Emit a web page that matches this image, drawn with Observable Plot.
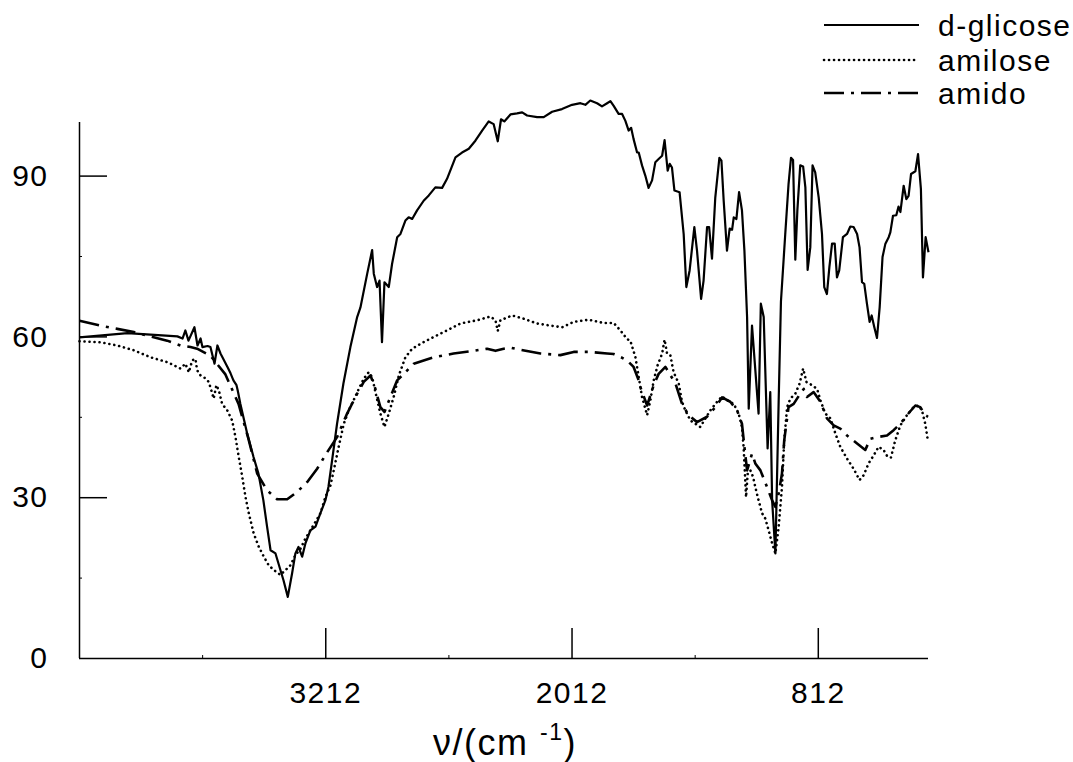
<!DOCTYPE html>
<html>
<head>
<meta charset="utf-8">
<script src="https://cdn.jsdelivr.net/npm/d3@7"></script>
<script src="https://cdn.jsdelivr.net/npm/@observablehq/plot@0.6"></script>
<style>
  html, body { margin: 0; padding: 0; background: #fff; }
  #wrap { position: relative; width: 1073px; height: 762px; font-family: "Liberation Sans", Arial, sans-serif; }
  #wrap svg text { letter-spacing: 1.5px; }
  #overlay { position: absolute; left: 0; top: 0; pointer-events: none; }
</style>
</head>
<body>
<div id="wrap"></div>
<script>
// ---- data (wavenumber in cm^-1, transmittance %) ----
const glicoseWn = [4412, 4178, 3935, 3910, 3896, 3881, 3852, 3837, 3822, 3813, 3788, 3774, 3754, 3740, 3725, 3691, 3676, 3662, 3647, 3641, 3628, 3595, 3564, 3540, 3516, 3498, 3481, 3457, 3433, 3418, 3397, 3376, 3360, 3345, 3327, 3311, 3287, 3262, 3238, 3214, 3199, 3181, 3157, 3126, 3092, 3059, 3043, 3010, 2986, 2978, 2962, 2950, 2938, 2926, 2905, 2889, 2864, 2848, 2824, 2808, 2791, 2767, 2735, 2710, 2678, 2645, 2621, 2580, 2548, 2515, 2483, 2450, 2418, 2394, 2374, 2358, 2342, 2312, 2280, 2255, 2231, 2182, 2150, 2109, 2061, 2012, 1971, 1947, 1923, 1890, 1866, 1841, 1825, 1809, 1785, 1768, 1752, 1736, 1724, 1712, 1695, 1687, 1671, 1655, 1639, 1622, 1606, 1590, 1573, 1561, 1546, 1536, 1525, 1513, 1488, 1468, 1455, 1439, 1416, 1403, 1383, 1371, 1354, 1344, 1330, 1314, 1294, 1284, 1273, 1257, 1244, 1232, 1224, 1211, 1198, 1184, 1172, 1159, 1151, 1135, 1103, 1092, 1078, 1059, 1046, 1037, 1021, 1005, 994, 973, 957, 945, 935, 924, 914, 900, 886, 875, 864, 851, 840, 827, 810, 794, 783, 770, 758, 745, 732, 721, 710, 692, 672, 656, 640, 623, 611, 599, 588, 575, 562, 552, 539, 526, 513, 499, 485, 469, 461, 448, 432, 421, 412, 396, 383, 372, 360, 339, 326, 312, 302, 289, 275];
const glicoseT = [59.9, 60.7, 60.1, 59.7, 61.2, 59.3, 61.8, 58.4, 59.7, 58.1, 58.3, 58.1, 55.0, 58.4, 56.9, 54.4, 53.2, 51.9, 51.0, 50.0, 47.5, 42.0, 37.6, 34.5, 29.5, 24.6, 20.2, 19.6, 16.5, 14.6, 11.5, 15.9, 19.6, 20.8, 19.0, 21.5, 23.9, 24.6, 27.1, 29.5, 32.0, 37.0, 43.8, 51.3, 58.1, 63.7, 65.5, 71.8, 76.2, 71.8, 69.3, 70.5, 59.0, 70.2, 69.3, 73.6, 78.6, 79.2, 81.7, 82.3, 82.0, 83.6, 85.4, 86.4, 87.9, 87.8, 89.5, 93.5, 94.4, 95.1, 96.6, 98.5, 100.2, 99.7, 96.5, 100.6, 100.2, 101.5, 101.7, 101.9, 101.3, 101.0, 101.0, 102.0, 102.5, 103.3, 103.6, 103.3, 104.1, 103.6, 103.0, 103.6, 104.0, 103.1, 101.6, 101.6, 100.3, 98.5, 99.0, 96.9, 94.4, 94.4, 92.0, 90.1, 87.8, 89.2, 92.6, 93.2, 93.8, 96.7, 91.0, 92.3, 91.6, 87.3, 87.0, 79.2, 69.3, 72.4, 80.5, 76.1, 67.1, 70.5, 80.5, 80.5, 74.6, 86.0, 93.4, 92.9, 85.4, 76.1, 80.2, 80.0, 82.3, 82.0, 87.0, 83.6, 76.1, 63.7, 46.6, 62.1, 45.7, 66.2, 63.7, 39.2, 49.7, 29.5, 19.6, 48.2, 66.6, 79.2, 88.5, 93.4, 93.0, 74.4, 83.6, 92.0, 91.8, 87.9, 72.5, 76.7, 92.0, 90.7, 86.0, 79.2, 69.3, 68.0, 73.0, 77.4, 77.4, 71.1, 72.4, 78.6, 79.2, 80.6, 80.5, 79.2, 76.7, 70.2, 69.9, 66.2, 62.8, 64.0, 61.8, 59.8, 65.5, 74.9, 77.4, 78.6, 79.5, 82.6, 82.7, 84.3, 83.3, 88.2, 85.7, 86.3, 90.4, 90.9, 94.1, 87.6, 71.1, 78.6, 75.8];

const amiloseWn = [4412, 4310, 4228, 4147, 4066, 3985, 3920, 3896, 3879, 3863, 3847, 3839, 3822, 3806, 3782, 3758, 3745, 3733, 3717, 3692, 3668, 3652, 3636, 3619, 3603, 3587, 3563, 3538, 3514, 3490, 3465, 3433, 3408, 3384, 3360, 3335, 3311, 3287, 3262, 3238, 3214, 3189, 3173, 3149, 3124, 3100, 3076, 3051, 3027, 3003, 2986, 2970, 2946, 2926, 2905, 2881, 2856, 2824, 2791, 2751, 2686, 2621, 2556, 2475, 2410, 2385, 2374, 2361, 2304, 2248, 2182, 2117, 2060, 2004, 1931, 1858, 1809, 1776, 1744, 1728, 1703, 1687, 1671, 1646, 1630, 1614, 1595, 1573, 1561, 1549, 1533, 1517, 1492, 1476, 1460, 1435, 1411, 1387, 1362, 1338, 1305, 1281, 1257, 1224, 1200, 1184, 1176, 1171, 1164, 1156, 1143, 1130, 1119, 1103, 1086, 1070, 1054, 1037, 1021, 1005, 989, 978, 964, 948, 924, 903, 886, 870, 843, 818, 802, 778, 753, 729, 705, 672, 640, 611, 591, 567, 542, 518, 494, 474, 458, 437, 412, 380, 348, 323, 307, 291, 277];
const amiloseT = [59.2, 59.0, 58.4, 57.5, 56.2, 55.3, 54.1, 55.0, 53.4, 55.6, 55.9, 53.8, 52.8, 52.5, 51.6, 48.5, 51.0, 50.0, 47.5, 46.3, 44.4, 41.3, 37.6, 33.9, 30.1, 27.1, 23.3, 20.8, 19.0, 17.4, 16.5, 15.6, 16.5, 17.4, 19.3, 20.5, 22.4, 23.9, 25.5, 27.1, 30.1, 32.3, 35.1, 39.5, 43.8, 46.3, 48.2, 50.3, 52.2, 53.4, 52.5, 49.7, 45.7, 43.2, 45.7, 48.8, 52.8, 56.2, 57.8, 58.7, 60.0, 61.2, 62.5, 63.1, 63.8, 63.1, 61.1, 63.1, 64.0, 63.4, 62.5, 62.1, 61.8, 62.8, 63.2, 62.6, 62.6, 61.2, 59.6, 59.3, 56.2, 52.5, 48.8, 45.4, 48.2, 51.9, 54.7, 56.9, 59.5, 56.9, 56.6, 53.4, 51.3, 47.9, 46.3, 44.4, 43.8, 43.2, 44.8, 46.3, 47.9, 48.9, 48.2, 47.5, 45.7, 43.2, 39.5, 35.7, 30.1, 34.5, 35.1, 33.9, 32.0, 29.5, 27.1, 26.1, 23.9, 21.5, 19.6, 24.6, 32.0, 40.7, 46.9, 48.5, 49.4, 51.3, 54.1, 51.6, 51.0, 50.3, 48.2, 45.7, 44.8, 42.0, 39.5, 37.3, 35.4, 33.3, 34.2, 36.4, 37.9, 39.5, 38.9, 37.6, 37.5, 40.7, 43.5, 45.4, 46.9, 47.2, 46.3, 43.8, 40.4];

const amidoWn = [4412, 4310, 4228, 4147, 4066, 3985, 3920, 3871, 3839, 3774, 3701, 3637, 3589, 3546, 3498, 3449, 3400, 3351, 3303, 3254, 3205, 3157, 3108, 3059, 3027, 2994, 2970, 2946, 2926, 2897, 2864, 2832, 2783, 2735, 2686, 2589, 2491, 2426, 2385, 2345, 2312, 2264, 2166, 2069, 2004, 1923, 1841, 1809, 1768, 1744, 1712, 1687, 1679, 1646, 1614, 1590, 1557, 1541, 1508, 1476, 1444, 1403, 1354, 1314, 1281, 1241, 1208, 1184, 1172, 1159, 1135, 1119, 1094, 1062, 1037, 1021, 1005, 989, 978, 957, 932, 900, 883, 867, 835, 802, 770, 737, 705, 672, 623, 583, 559, 526, 477, 445, 412, 380, 339, 315, 291, 277];
const amidoT = [63.0, 62.1, 61.5, 60.9, 60.1, 59.3, 58.4, 58.1, 57.8, 56.5, 53.0, 47.5, 41.0, 34.5, 31.4, 29.7, 29.7, 31.1, 32.9, 35.4, 38.5, 41.3, 45.7, 49.4, 51.6, 52.8, 50.3, 46.9, 46.0, 48.8, 51.9, 53.1, 55.0, 55.6, 56.2, 56.9, 57.4, 57.8, 57.4, 57.8, 58.0, 57.6, 56.9, 56.6, 57.2, 57.2, 56.9, 56.8, 56.1, 55.6, 54.4, 51.9, 50.6, 47.2, 51.0, 53.1, 54.4, 53.4, 51.3, 47.5, 45.4, 44.1, 45.1, 46.9, 48.7, 47.9, 46.3, 43.8, 39.5, 35.1, 38.2, 36.4, 35.1, 32.0, 29.5, 28.3, 30.8, 34.5, 40.7, 46.9, 47.5, 49.4, 50.3, 48.8, 49.7, 47.9, 44.8, 43.5, 42.9, 41.6, 40.1, 38.9, 41.0, 41.3, 41.6, 42.6, 43.8, 45.4, 47.2, 46.9, 45.4, 45.1];

const seriesNames = ["d-glicose", "amilose", "amido"];
const xTicks = [3212, 2012, 812];
const xMinorTicks = [3812, 2612, 1412];
const yTicks = [0, 30, 60, 90];
const yMinorTicks = [15, 45, 75];
const xDomain = [4412, 275];
const yDomain = [0, 100];

// ---- build tables ----
const toRows = (wn, t) => d3.zip(wn, t).map(([w, v]) => ({wn: w, t: v}));
const glicose = toRows(glicoseWn, glicoseT);
const amilose = toRows(amiloseWn, amiloseT);
const amido = toRows(amidoWn, amidoT);

const styles = [
  {strokeWidth: 2.2, strokeDasharray: null, strokeLinecap: "butt"},
  {strokeWidth: 2.6, strokeDasharray: "0.1 4.9", strokeLinecap: "round"},
  {strokeWidth: 2.6, strokeDasharray: "20 7 3 7", strokeLinecap: "butt"}
];

const W = 1073, H = 762;
const mL = 79, mR = 145, mT = 122, mB = 104;
const plotW = W - mL - mR, plotH = H - mT - mB;
const font = "'Liberation Sans', Arial, sans-serif";

const chart = Plot.plot({
  width: W,
  height: H,
  marginLeft: mL,
  marginRight: mR,
  marginTop: mT,
  marginBottom: mB,
  style: {fontFamily: font, fontSize: "30px", background: "white", overflow: "visible"},
  x: {domain: xDomain},
  y: {domain: yDomain},
  marks: [
    Plot.ruleX([xDomain[0]], {stroke: "black", strokeWidth: 1.5}),
    Plot.ruleY([0], {stroke: "black", strokeWidth: 1.5}),
    Plot.tickY(yTicks.slice(1), {y: d => d, stroke: "black", strokeWidth: 1.5, insetRight: plotW - 28}),
    Plot.tickY(yMinorTicks, {y: d => d, stroke: "black", strokeWidth: 1, insetRight: plotW - 3}),
    Plot.tickX(xTicks, {x: d => d, stroke: "black", strokeWidth: 1.5, insetTop: plotH - 30}),
    Plot.tickX(xMinorTicks, {x: d => d, stroke: "black", strokeWidth: 1, insetTop: plotH - 3}),
    Plot.axisY({ticks: yTicks, tickSize: 0, tickPadding: 31, fontSize: 30, label: null, tickFormat: d => String(d)}),
    Plot.axisX({ticks: xTicks, tickSize: 0, tickPadding: 23, fontSize: 30, label: null, tickFormat: d => String(d)}),
    Plot.line(amido, {x: "wn", y: "t", stroke: "black", ...styles[2]}),
    Plot.line(amilose, {x: "wn", y: "t", stroke: "black", ...styles[1]}),
    Plot.line(glicose, {x: "wn", y: "t", stroke: "black", ...styles[0]})
  ]
});

const wrap = document.getElementById("wrap");
wrap.appendChild(chart);

// ---- overlay: legend and axis title ----
const ov = d3.select(wrap).append("svg")
  .attr("id", "overlay")
  .attr("width", W).attr("height", H)
  .style("font-family", font);

const legendRows = [25, 60, 93];
seriesNames.forEach((name, i) => {
  const s = styles[i];
  ov.append("line")
    .attr("x1", 824).attr("x2", 919)
    .attr("y1", legendRows[i]).attr("y2", legendRows[i])
    .attr("stroke", "black")
    .attr("stroke-width", s.strokeWidth)
    .attr("stroke-linecap", s.strokeLinecap)
    .attr("stroke-dasharray", s.strokeDasharray);
  ov.append("text")
    .attr("x", 938).attr("y", legendRows[i] + 11)
    .attr("font-size", 30)
    .text(name);
});

const title = ov.append("text")
  .attr("x", 433).attr("y", 755)
  .attr("font-size", 36);
title.append("tspan").text("\u03bd/(cm ");
title.append("tspan").attr("font-size", 23).attr("dy", -15).text("-1");
title.append("tspan").attr("dy", 15).text(")");
</script>
</body>
</html>
